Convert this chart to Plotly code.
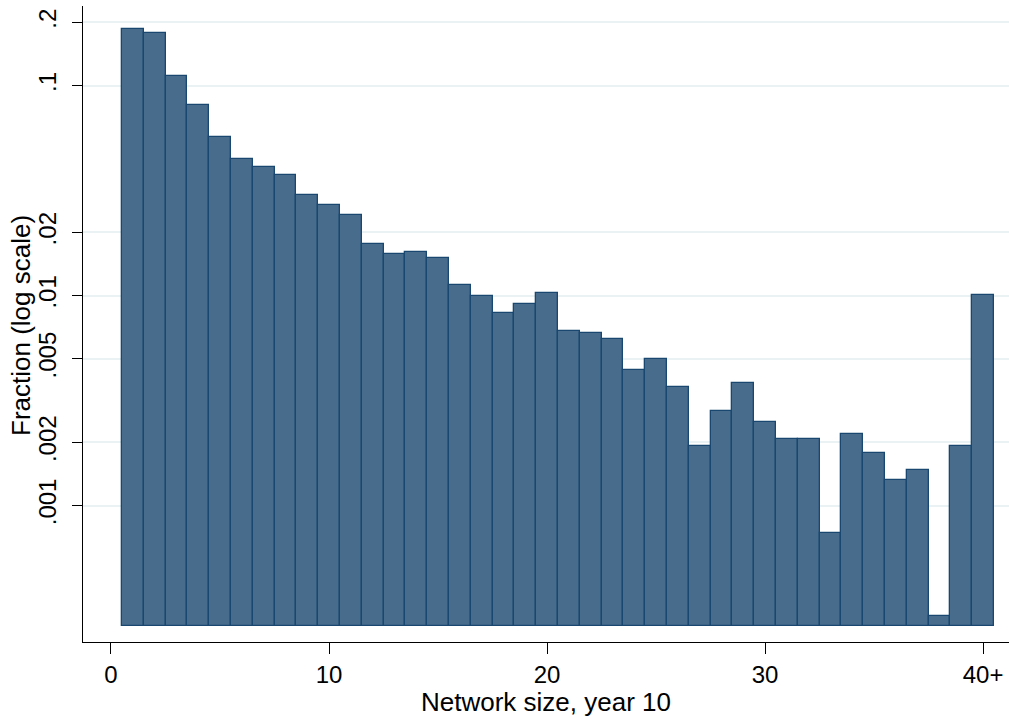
import plotly.graph_objects as go

# Network size categories (40 = "40 or more") and fraction of respondents in each
network_size = list(range(1, 41))
fraction = [
    0.1864, 0.1784, 0.1106, 0.0810, 0.0567, 0.0447, 0.0411, 0.0374, 0.0300, 0.0269,
    0.0241, 0.01755, 0.01571, 0.01603, 0.01509, 0.01118, 0.0100, 0.00823, 0.00911, 0.01031,
    0.00675, 0.00661, 0.00621, 0.00440, 0.00500, 0.00367, 0.00191, 0.00281, 0.00382, 0.00251,
    0.00207, 0.00207, 0.000737, 0.00220, 0.00177, 0.00132, 0.00147, 0.000297, 0.00191, 0.0101,
]

x_tick_vals = [0, 10, 20, 30, 40]
x_tick_text = ["0", "10", "20", "30", "40+"]
y_tick_vals = [0.001, 0.002, 0.005, 0.01, 0.02, 0.1, 0.2]
y_tick_text = [".001", ".002", ".005", ".01", ".02", ".1", ".2"]

x_title = "Network size, year 10"
y_title = "Fraction (log scale)"

# bars rise from a common floor on the log scale
bar_floor = 0.000267

FILL = "rgb(72,108,140)"
EDGE = "rgb(26,71,111)"
GRID = "rgb(234,242,243)"
FONT = "Liberation Sans, Arial, Helvetica, sans-serif"

W, H = 1009, 719
M = dict(l=83, r=0, t=6, b=77)
plot_w = W - M["l"] - M["r"]
plot_h = H - M["t"] - M["b"]


def px_to_paper_x(px):
    return (px - M["l"]) / plot_w


def px_to_paper_y(py):
    return (H - M["b"] - py) / plot_h


fig = go.Figure(
    go.Bar(
        x=network_size,
        y=[f - bar_floor for f in fraction],
        base=bar_floor,
        width=1.0,
        marker=dict(color=FILL, line=dict(color=EDGE, width=1.3)),
        hovertemplate="%{x}: %{customdata:.4f}<extra></extra>",
        customdata=fraction,
    )
)

fig.update_layout(
    width=W,
    height=H,
    margin=M,
    paper_bgcolor="white",
    plot_bgcolor="white",
    showlegend=False,
    bargap=0,
    font=dict(family=FONT, size=24, color="black"),
    xaxis=dict(
        range=[-1.284, 41.19],
        tickmode="array",
        tickvals=x_tick_vals,
        ticktext=x_tick_text,
        ticks="outside",
        ticklen=11,
        tickwidth=1.3,
        tickcolor="black",
        showline=True,
        linecolor="black",
        linewidth=1.3,
        showgrid=False,
        zeroline=False,
        tickfont=dict(size=24),
    ),
    yaxis=dict(
        type="log",
        range=[-3.65, -0.6214],
        tickmode="array",
        tickvals=y_tick_vals,
        ticktext=y_tick_text,
        tickangle=-90,
        ticks="outside",
        ticklen=10,
        tickwidth=1.3,
        tickcolor="black",
        showline=True,
        linecolor="black",
        linewidth=1.3,
        showgrid=True,
        gridcolor=GRID,
        gridwidth=2,
        zeroline=False,
        tickfont=dict(size=24),
        ticklabelstandoff=6,
    ),
    annotations=[
        dict(
            text=x_title,
            xref="paper", yref="paper",
            x=px_to_paper_x(546), y=px_to_paper_y(702),
            xanchor="center", yanchor="middle",
            showarrow=False,
            font=dict(size=26),
        ),
        dict(
            text=y_title,
            xref="paper", yref="paper",
            x=px_to_paper_x(21), y=px_to_paper_y(326),
            xanchor="center", yanchor="middle",
            textangle=-90,
            showarrow=False,
            font=dict(size=26),
        ),
    ],
)

fig.write_html("out.html")
